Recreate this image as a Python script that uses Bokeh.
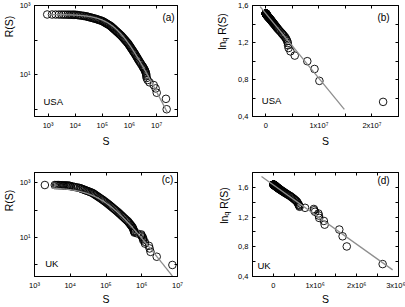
import math
import numpy as np
from bokeh.plotting import figure
from bokeh.models import FixedTicker, Label, LinearAxis, LogAxis, Range1d
from bokeh.layouts import column, row
from bokeh.embed import file_html
from bokeh.resources import INLINE

FONT = "Liberation Sans"

# ---------------------------------------------------------------- data
# USA: city size S and its rank R(S) (number of cities with size >= S)
usa_rank = [1, 2, 3, 4, 5, 6, 7, 8, 9, 10, 11, 12, 13, 14, 15, 16, 17, 18,
            20, 22, 24, 26, 28, 30, 32, 35, 38, 41, 44, 47, 50,
            54, 58, 62, 66, 71, 76, 81, 86, 92, 98,
            104, 111, 118, 126, 134, 142, 150, 158, 167, 176, 185, 195,
            205, 215, 225, 236, 247, 258, 270, 282, 294, 306, 318, 330, 342, 354,
            365, 375, 385, 395, 405, 416, 425, 435, 445, 455, 465, 475, 485, 494,
            500, 508, 516, 523, 530, 537,
            538, 539, 540, 541, 542, 543, 544, 545, 546, 547, 548, 549, 550]
usa_size = [2.35e7, 2.21e7, 1.01e7, 9.18e6, 7.82e6, 5.46e6, 4.65e6, 4.30e6, 4.20e6,
            4.15e6, 4.05e6, 3.90e6, 3.75e6, 3.59e6, 3.40e6, 3.25e6, 3.10e6, 2.97e6,
            2.72e6, 2.52e6, 2.34e6, 2.20e6, 2.08e6, 1.97e6, 1.88e6, 1.75e6, 1.65e6,
            1.555e6, 1.466e6, 1.387e6, 1.315e6,
            1.233e6, 1.161e6, 1.099e6, 1.042e6, 979500, 924700, 871000, 816600, 756900, 706300,
            660700, 615200, 574100, 533400, 498800, 459200, 425300, 395700, 366400, 340400,
            317700, 295100,
            274900, 257200, 241200, 225300, 211100, 198600, 179600, 163700, 149700, 137400,
            126500, 116800, 108200, 100500,
            89700, 80900, 73100, 66200, 60100, 53700, 48500, 43400, 38900, 35000, 31500,
            28400, 25700, 22700,
            20400, 17700, 15400, 13600, 12000, 10700,
            9600, 8700, 7800, 6900, 6000, 5200, 4400, 3700, 3100, 2500, 1900, 1400, 930]

# UK: city size S and its rank R(S)
uk_rank = [1, 2, 3, 4, 5, 6, 7, 8, 9, 10, 11, 12, 13, 14, 15, 16, 17, 18,
           20, 22, 24, 26, 28, 30,
           33, 36, 39, 42, 46, 50, 55, 60, 65, 71, 77, 83, 90, 98, 106, 115, 125, 135,
           145, 156, 168, 180, 195,
           210, 225, 240, 260, 280, 300, 320, 340, 360, 380, 400, 420, 440, 460, 480,
           500, 520, 540, 560, 580, 600, 620, 640, 660, 680, 700, 720, 740, 760,
           767, 774, 780, 785, 790, 794, 798, 802, 806, 809, 812, 815, 817, 819, 820]
uk_size = [7.2e6, 2.62e6, 1.76e6, 1.66e6, 1.58e6, 1.23e6, 1.21e6, 1.10e6, 1.09e6,
           1.08e6, 1.00e6, 980000, 970000, 760000, 630000, 621000, 611000, 601200,
           583400, 568900, 547000, 522400, 500000, 479700,
           452900, 430500, 408300, 383700, 355900, 332300, 307000, 285800, 267600,
           248600, 232300, 218300, 202800, 187500, 174600, 161800, 150000, 139900,
           130900, 122500, 114000, 106400, 98200,
           91000, 84700, 79400, 72600, 66700, 61700, 57300, 53500, 50100, 47100,
           44500, 42000, 38700, 35400, 32500, 29900, 27700, 25600, 23800, 22200,
           20700, 19400, 18200, 16400, 14600, 13000, 11700, 10500, 9900,
           9500, 9000, 8500, 8000, 7500, 7000, 6500, 6000, 5500, 5100, 4700, 4300,
           4000, 3700, 1950]

# q-logarithm index and straight-line fit ln_q R(S) = a - b*S
usa_q, usa_a, usa_b = 1.65, 1.513, 7.0e-8
uk_q, uk_a, uk_b = 1.6, 1.633, 4.0e-7
usa_line_span = [-1.06e6, 1.48e7]
uk_line_span = [-2.84e5, 2.86e6]
usa_curve_span = [1.0e3, 2.5e7]
uk_curve_span = [3.0e3, 1.0e7]

log_ticks = [1e3, 1e4, 1e5, 1e6, 1e7]
log_tick_labels = ["10³", "10⁴", "10⁵", "10⁶", "10⁷"]
rank_ticks = [10, 1000]
rank_minor = [1, 100]
rank_tick_labels = ["10¹", "10³"]
lnq_ticks = [0.4, 0.8, 1.2, 1.6]
lnq_minor = [0.6, 1.0, 1.4]
lnq_tick_labels = ["0,4", "0,8", "1,2", "1,6"]
usa_s_ticks = [0, 1e7, 2e7]
usa_s_minor = [5e6, 1.5e7]
usa_s_labels = ["0", "1x10⁷", "2x10⁷"]
uk_s_ticks = [0, 1e6, 2e6, 3e6]
uk_s_minor = [5e5, 1.5e6, 2.5e6]
uk_s_labels = ["0", "1x10⁶", "2x10⁶", "3x10⁶"]


def ln_q(x, q):
    return (np.asarray(x, dtype=float) ** (1.0 - q) - 1.0) / (1.0 - q)


def exp_q(y, q):
    return (1.0 + (1.0 - q) * np.asarray(y, dtype=float)) ** (1.0 / (1.0 - q))


# ---------------------------------------------------------------- helpers
def make_fig(width, height, xr, yr, log, borders):
    left, right, top, bottom = borders
    kind = "log" if log else "linear"
    p = figure(width=width, height=height, x_range=Range1d(*xr), y_range=Range1d(*yr),
               x_axis_type=kind, y_axis_type=kind, output_backend="svg",
               toolbar_location=None,
               min_border_left=left, min_border_right=right,
               min_border_top=top, min_border_bottom=bottom)
    p.grid.visible = False
    p.outline_line_color = "black"
    p.background_fill_color = "white"
    p.border_fill_color = "white"
    Axis = LogAxis if log else LinearAxis
    p.add_layout(Axis(), "above")
    p.add_layout(Axis(), "right")
    return p


def title_strip(width, height):
    # narrow blank canvas that carries the rotated y-axis title
    s = figure(width=width, height=height, x_range=Range1d(0, 1), y_range=Range1d(0, 1),
               x_axis_location=None, y_axis_location=None, output_backend="svg",
               toolbar_location=None, min_border=0)
    s.grid.visible = False
    s.outline_line_color = None
    s.background_fill_color = "white"
    s.border_fill_color = "white"
    return s


def tick_axis(ax, ticks, minor, labels):
    ax.ticker = FixedTicker(ticks=ticks, minor_ticks=minor)
    ax.axis_line_color = "black"
    ax.axis_line_width = 1
    ax.major_tick_line_color = "black"
    ax.minor_tick_line_color = "black"
    ax.major_tick_in = 3
    ax.major_tick_out = 0
    ax.minor_tick_in = 3
    ax.minor_tick_out = 0
    ax.major_label_text_font = FONT
    ax.major_label_text_color = "black"
    if labels is None:
        # mirrored frame side: ticks only
        ax.major_label_overrides = {t: "" for t in ticks}
        ax.major_label_text_font_size = "1px"
        ax.major_label_standoff = 0
    else:
        ax.major_label_overrides = {t: s for t, s in zip(ticks, labels)}
        ax.major_label_text_font_size = "7.5px"
        ax.major_label_standoff = 4


def dress(p, xt, xm, xl, yt, ym, yl, title_gap):
    tick_axis(p.below[0], xt, xm, xl)
    tick_axis(p.above[0], xt, xm, None)
    tick_axis(p.left[0], yt, ym, yl)
    tick_axis(p.right[0], yt, ym, None)
    xa = p.below[0]
    xa.axis_label = "S"
    xa.axis_label_text_font = FONT
    xa.axis_label_text_font_size = "10.5px"
    xa.axis_label_text_font_style = "normal"
    xa.axis_label_text_color = "black"
    xa.axis_label_standoff = title_gap


def note(p, text, x, y, size="10px", align="left", angle=0.0):
    p.add_layout(Label(x=x, y=y, x_units="screen", y_units="screen", text=text,
                       angle=angle, text_font=FONT, text_font_size=size,
                       text_align=align, text_baseline="middle", text_color="black"))


def lnq_title(p, x, y_mid):
    # "ln" + subscript q + "R(S)", written bottom-to-top
    w_ln, w_q, gap, w_rs = 8.2, 4.3, 2.6, 21.6
    y0 = y_mid - (w_ln + w_q + gap + w_rs) / 2
    note(p, "ln", x, y0, "10.5px", "left", math.pi / 2)
    note(p, "q", x + 2.6, y0 + w_ln, "7.5px", "left", math.pi / 2)
    note(p, "R(S)", x, y0 + w_ln + w_q + gap, "10.5px", "left", math.pi / 2)


def circles(p, xs, ys):
    p.scatter(xs, ys, marker="circle", size=7.6, fill_alpha=0,
              line_color="black", line_width=0.9)


FIT_COLOR = "#8e8e8e"

# ---------------------------------------------------------------- (a) USA, log-log rank
ta = title_strip(16, 155)
note(ta, "R(S)", 8.3, 90, "10.5px", "center", math.pi / 2)

pa = make_fig(184, 155, (10 ** 2.5, 10 ** 7.77), (10 ** -0.21, 1e3), True, (15, 23, 5, 39))
dress(pa, log_ticks, [], log_tick_labels, rank_ticks, rank_minor, rank_tick_labels, 2)
circles(pa, usa_size, usa_rank)
sa = np.logspace(math.log10(usa_curve_span[0]), math.log10(usa_curve_span[1]), 200)
pa.line(sa, exp_q(usa_a - usa_b * sa, usa_q), line_color=FIT_COLOR, line_width=1.3)
note(pa, "(a)", 134, 99, "10px", "center")
note(pa, "USA", 9, 15, "9.5px")

# ---------------------------------------------------------------- (b) USA, ln_q R vs S
tb = title_strip(32, 155)
lnq_title(tb, 21.7, 85)

pb = make_fig(173, 155, (-2.5e6, 2.5e7), (0.4, 1.6), False, (20, 7, 5, 39))
dress(pb, usa_s_ticks, usa_s_minor, usa_s_labels, lnq_ticks, lnq_minor, lnq_tick_labels, 2)
circles(pb, usa_size, ln_q(usa_rank, usa_q))
pb.line(usa_line_span, [usa_a - usa_b * s for s in usa_line_span],
        line_color=FIT_COLOR, line_width=1.3)
note(pb, "(b)", 131, 99, "10px", "center")
note(pb, "USA", 9.3, 16, "9.5px")

# ---------------------------------------------------------------- (c) UK, log-log rank
tc = title_strip(16, 152)
note(tc, "R(S)", 8.3, 76, "10.5px", "center", math.pi / 2)

pc = make_fig(184, 152, (1e3, 1e7), (10 ** -0.42, 10 ** 3.37), True, (15, 23, 17, 25))
dress(pc, log_ticks, [], log_tick_labels, rank_ticks, rank_minor, rank_tick_labels, 0)
circles(pc, uk_size, uk_rank)
sc = np.logspace(math.log10(uk_curve_span[0]), math.log10(uk_curve_span[1]), 200)
pc.line(sc, exp_q(uk_a - uk_b * sc, uk_q), line_color=FIT_COLOR, line_width=1.3)
note(pc, "(c)", 133, 97.5, "10px", "center")
note(pc, "UK", 10.7, 13.3, "9.5px")

# ---------------------------------------------------------------- (d) UK, ln_q R vs S
td = title_strip(32, 152)
lnq_title(td, 23, 71)

pd = make_fig(173, 152, (-5e5, 3e6), (0.4, 1.8), False, (20, 7, 17, 25))
dress(pd, uk_s_ticks, uk_s_minor, uk_s_labels, lnq_ticks, lnq_minor, lnq_tick_labels, 0)
circles(pd, uk_size, ln_q(uk_rank, uk_q))
pd.line(uk_line_span, [uk_a - uk_b * s for s in uk_line_span],
        line_color=FIT_COLOR, line_width=1.3)
note(pd, "(d)", 131, 96, "10px", "center")
note(pd, "UK", 5, 10.6, "9.5px")

layout = column(row(ta, pa, tb, pb), row(tc, pc, td, pd))
open("out.html", "w").write(file_html(layout, INLINE))
